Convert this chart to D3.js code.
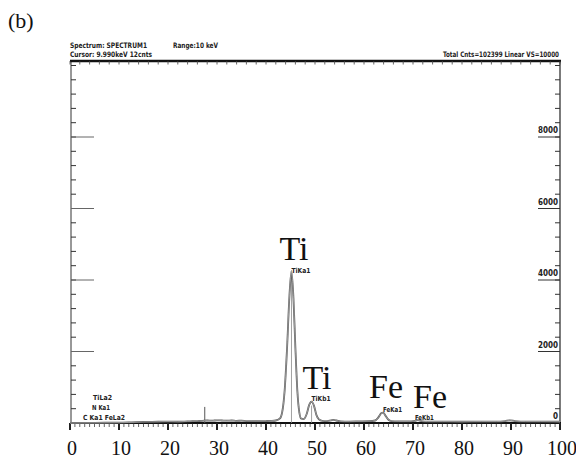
<!DOCTYPE html>
<html>
<head>
<meta charset="utf-8">
<script src="https://cdn.jsdelivr.net/npm/d3@7"></script>
<style>
  body { margin: 0; background: #fff; }
  .tiny { font-family: "Liberation Sans Narrow", "DejaVu Sans Condensed", sans-serif; font-weight: bold; fill: #222; }
  .serif { font-family: "Liberation Serif", "Times New Roman", Times, serif; fill: #111; }
</style>
</head>
<body>
<div id="chart"></div>
<script>
// spectrum (x in 0..100 = 0..10 keV, counts)
const energy = [0, 5, 10, 12, 15, 18, 20, 22, 24, 25, 26, 27, 28, 29, 30, 31, 32, 33, 34, 35, 36, 38, 40, 41, 42,
  42.8, 43.3, 43.8, 44.3, 44.8, 45.2, 45.6, 46.0, 46.4, 46.8, 47.2, 47.7, 48.3, 48.8, 49.3, 49.8, 50.3, 50.8,
  51.5, 52.5, 53.3, 53.8, 54.4, 55.2, 57, 59, 61, 62.3, 62.9, 63.5, 63.9, 64.4, 65, 65.6, 67, 69, 70.3, 71, 71.7,
  73, 76, 80, 84, 87, 88.8, 89.8, 90.8, 93, 96, 100];
const counts = [0, 5, 10, 15, 30, 35, 40, 35, 45, 50, 55, 60, 70, 65, 75, 70, 65, 70, 60, 65, 55, 50, 55, 60, 70,
  120, 300, 900, 2100, 3600, 4250, 3500, 2100, 900, 300, 120, 110, 250, 500, 600, 480, 220, 100,
  60, 55, 75, 85, 70, 45, 40, 45, 50, 70, 150, 270, 290, 200, 90, 55, 45, 45, 60, 80, 55,
  40, 40, 35, 40, 40, 55, 75, 55, 40, 40, 35];

const xTicks = [0, 10, 20, 30, 40, 50, 60, 70, 80, 90, 100];
const yLabels = [0, 2000, 4000, 6000, 8000];

// element line markers
const lineNames = ["TiKa1", "TiKb1", "FeKa1", "FeKb1"];
const lineEnergy = [45.2, 49.3, 63.9, 71];
const linePeak = [4250, 600, 290, 80];
const cursorEnergy = 27.5;
const cursorTop = 450;

const elemNames = ["Ti", "Ti", "Fe", "Fe"];
const lowLabels = ["TiLa2", "N Ka1", "C Ka1 FeLa2"];

const width = 576, height = 459;
const svg = d3.select("#chart").append("svg").attr("width", width).attr("height", height);

const x = d3.scaleLinear().domain([0, 100]).range([70, 560]);
const y = d3.scaleLinear().domain([0, 10000]).range([423, 65.5]);
const frameTop = 61;

// frame
svg.append("line").attr("x1", x(0) + 1).attr("x2", x(0) + 1).attr("y1", frameTop).attr("y2", y(0))
  .attr("stroke", "#333").attr("stroke-width", 1);
svg.append("line").attr("x1", x(100)).attr("x2", x(100)).attr("y1", frameTop).attr("y2", y(0) + 7)
  .attr("stroke", "#222").attr("stroke-width", 1.2);
svg.append("line").attr("x1", x(0)).attr("x2", x(100) + 1).attr("y1", frameTop).attr("y2", frameTop)
  .attr("stroke", "#111").attr("stroke-width", 2.5);
svg.append("line").attr("x1", x(0)).attr("x2", x(100) + 1).attr("y1", y(0)).attr("y2", y(0))
  .attr("stroke", "#111").attr("stroke-width", 2.2);

// top ruler ticks
svg.append("g").selectAll("line").data(d3.range(0, 101, 2)).join("line")
  .attr("x1", (d) => x(d)).attr("x2", (d) => x(d))
  .attr("y1", frameTop).attr("y2", frameTop + 3.5)
  .attr("stroke", "#444").attr("stroke-width", 0.8);

// bottom ruler ticks
svg.append("g").selectAll("line").data(d3.range(0, 101, 1)).join("line")
  .attr("x1", (d) => x(d)).attr("x2", (d) => x(d))
  .attr("y1", y(0)).attr("y2", (d) => (d % 10 === 0 ? y(0) + 7 : y(0) + 4))
  .attr("stroke", "#222").attr("stroke-width", (d) => (d % 10 === 0 ? 2 : 0.7));

// vertical ticks on both sides, every 400 counts, long every 2000
const yTickVals = d3.range(0, 10001, 400).filter((d) => d > 0);
const longTicks = [2000, 4000, 6000, 8000];
svg.append("g").selectAll("line").data(yTickVals.concat(longTicks)).join("line")
  .attr("x1", x(0) + 1).attr("x2", (d, i) => (i >= yTickVals.length ? x(0) + 24 : x(0) + 6))
  .attr("y1", (d) => y(d)).attr("y2", (d) => y(d))
  .attr("stroke", (d, i) => (i >= yTickVals.length ? "#666" : "#333")).attr("stroke-width", 1);
svg.append("g").selectAll("line").data(yTickVals.concat(longTicks)).join("line")
  .attr("x1", x(100)).attr("x2", (d, i) => (i >= yTickVals.length ? x(100) - 22 : x(100) - 5))
  .attr("y1", (d) => y(d)).attr("y2", (d) => y(d))
  .attr("stroke", "#333").attr("stroke-width", 1);

svg.append("g").selectAll("text").data(yLabels).join("text")
  .attr("class", "tiny")
  .attr("x", x(100) - 2)
  .attr("y", (d) => y(d) - 4)
  .attr("text-anchor", "end")
  .attr("font-size", 8)
  .text((d) => d);

// x labels
svg.append("g").selectAll("text").data(xTicks).join("text")
  .attr("class", "serif")
  .attr("x", (d) => x(d) + 2)
  .attr("y", 455)
  .attr("text-anchor", "middle")
  .attr("font-size", 20)
  .text((d) => d);

// markers
svg.append("line").attr("x1", x(cursorEnergy)).attr("x2", x(cursorEnergy))
  .attr("y1", y(cursorTop)).attr("y2", y(0)).attr("stroke", "#555").attr("stroke-width", 1);
svg.append("g").selectAll("line").data(lineEnergy.slice(0, 2)).join("line")
  .attr("x1", (d) => x(d)).attr("x2", (d) => x(d))
  .attr("y1", (d, i) => y(linePeak[i]) + 4).attr("y2", y(0))
  .attr("stroke", "#888").attr("stroke-width", 0.8);

// spectrum, drawn as a double outline like the original display
const pts = energy.map((e, i) => [e, counts[i]]);
const line = d3.line().x((d) => x(d[0])).y((d) => y(d[1])).curve(d3.curveMonotoneX);
svg.append("path").datum(pts).attr("d", line)
  .attr("fill", "none").attr("stroke", "#555").attr("stroke-width", 1.8);
svg.append("path").datum(pts).attr("d", line)
  .attr("fill", "none").attr("stroke", "#ddd").attr("stroke-width", 0.5);

// line labels
const lineLabelDx = [0, 0, 0, -3];
const lineLabelY = [273, 401, 412, 420];
svg.append("g").selectAll("text").data(lineNames).join("text")
  .attr("class", "tiny")
  .attr("x", (d, i) => x(lineEnergy[i]) + lineLabelDx[i])
  .attr("y", (d, i) => lineLabelY[i])
  .attr("font-size", 7)
  .attr("textLength", 19).attr("lengthAdjust", "spacingAndGlyphs")
  .text((d) => d);

// element labels
const elemX = [294, 317, 386, 430];
const elemY = [260, 389, 398, 408];
svg.append("g").selectAll("text").data(elemNames).join("text")
  .attr("class", "serif")
  .attr("x", (d, i) => elemX[i]).attr("y", (d, i) => elemY[i])
  .attr("text-anchor", "middle")
  .attr("font-size", 34)
  .text((d) => d);

// low energy labels
const lowX = [93, 92, 83], lowY = [400, 410, 420], lowW = [19, 18, 42];
svg.append("g").selectAll("text").data(lowLabels).join("text")
  .attr("class", "tiny")
  .attr("x", (d, i) => lowX[i]).attr("y", (d, i) => lowY[i])
  .attr("font-size", 7)
  .attr("textLength", (d, i) => lowW[i]).attr("lengthAdjust", "spacingAndGlyphs")
  .text((d) => d);

// header
const header = [
  { t: "Spectrum: SPECTRUM1", x: 70, y: 48, w: 77 },
  { t: "Range:10 keV", x: 173, y: 48, w: 45 },
  { t: "Cursor:  9.990keV 12cnts", x: 70, y: 57, w: 82 },
  { t: "Total Cnts=102399 Linear  VS=10000", x: 443, y: 57, w: 116 },
];
svg.append("g").selectAll("text").data(header).join("text")
  .attr("class", "tiny")
  .attr("x", (d) => d.x).attr("y", (d) => d.y)
  .attr("font-size", 7.5)
  .attr("textLength", (d) => d.w).attr("lengthAdjust", "spacingAndGlyphs")
  .text((d) => d.t);

svg.append("text").attr("class", "serif").attr("x", 8).attr("y", 28)
  .attr("font-size", 22).text("(b)");
</script>
</body>
</html>
